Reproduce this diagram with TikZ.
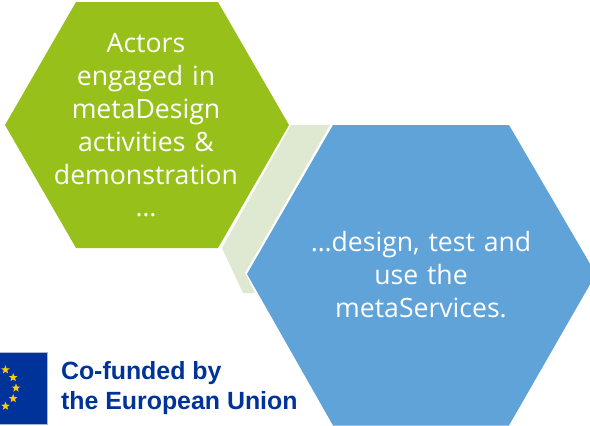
\documentclass[tikz,border=0pt]{standalone}
\usepackage{fontspec}
\setmainfont[WordSpace=0.6]{Open Sans}
\newfontfamily\logofont{Liberation Sans}
\usetikzlibrary{shapes.geometric}
\definecolor{hexgreen}{HTML}{97C11A}
\definecolor{hexblue}{HTML}{60A3D9}
\definecolor{hexpale}{HTML}{DFE9D1}
\definecolor{eublue}{HTML}{003399}
\definecolor{euyellow}{HTML}{FFCC00}
\tikzset{hextext/.style={white,align=center,font=\fontsize{26.6}{32.8}\selectfont,text width=280pt},
  logotext/.style={eublue,anchor=west,font=\logofont\bfseries\fontsize{24.9}{30}\selectfont,align=left},
  eustar/.style={star,star points=5,star point ratio=2.4,fill=euyellow,inner sep=0pt,minimum size=9pt}}

\begin{document}
\begin{tikzpicture}[x=1pt,y=-1pt]
  \useasboundingbox (0,0) rectangle (590,426);
  \clip (0,0) rectangle (590,426);
  % hexagons
  \fill[hexpale] (291,125)--(330,125)--(245,273)--(255,293)--(243,293)--(222,248)--cycle;
  \fill[hexgreen] (76,2)--(218,2)--(289,125)--(218,248)--(76,248)--(5,125)--cycle;
  \fill[hexblue] (333,125)--(509,125)--(596,274)--(509,425.5)--(333,425.5)--(247,274)--cycle;
  \node[hextext] (actors) at (146,125.5) {Actors\\engaged in\\metaDesign\\activities \&\\demonstration\\…};
  \node[hextext] (design) at (421,274.5) {…design, test and\\use the\\metaServices.};
  % logo
  \fill[eublue,draw=eublue!35,line width=0.7pt] (-30,352) rectangle (47.5,424);
  \foreach \a in {-60,-30,0,30,60}
    \node[eustar] (star\a) at ({-5+21*cos(\a)},{388+21*sin(\a)}) {};
  \node[logotext] (cofunded) at (57.5,388) {Co-funded by\\the European Union};
\end{tikzpicture}
\end{document}
